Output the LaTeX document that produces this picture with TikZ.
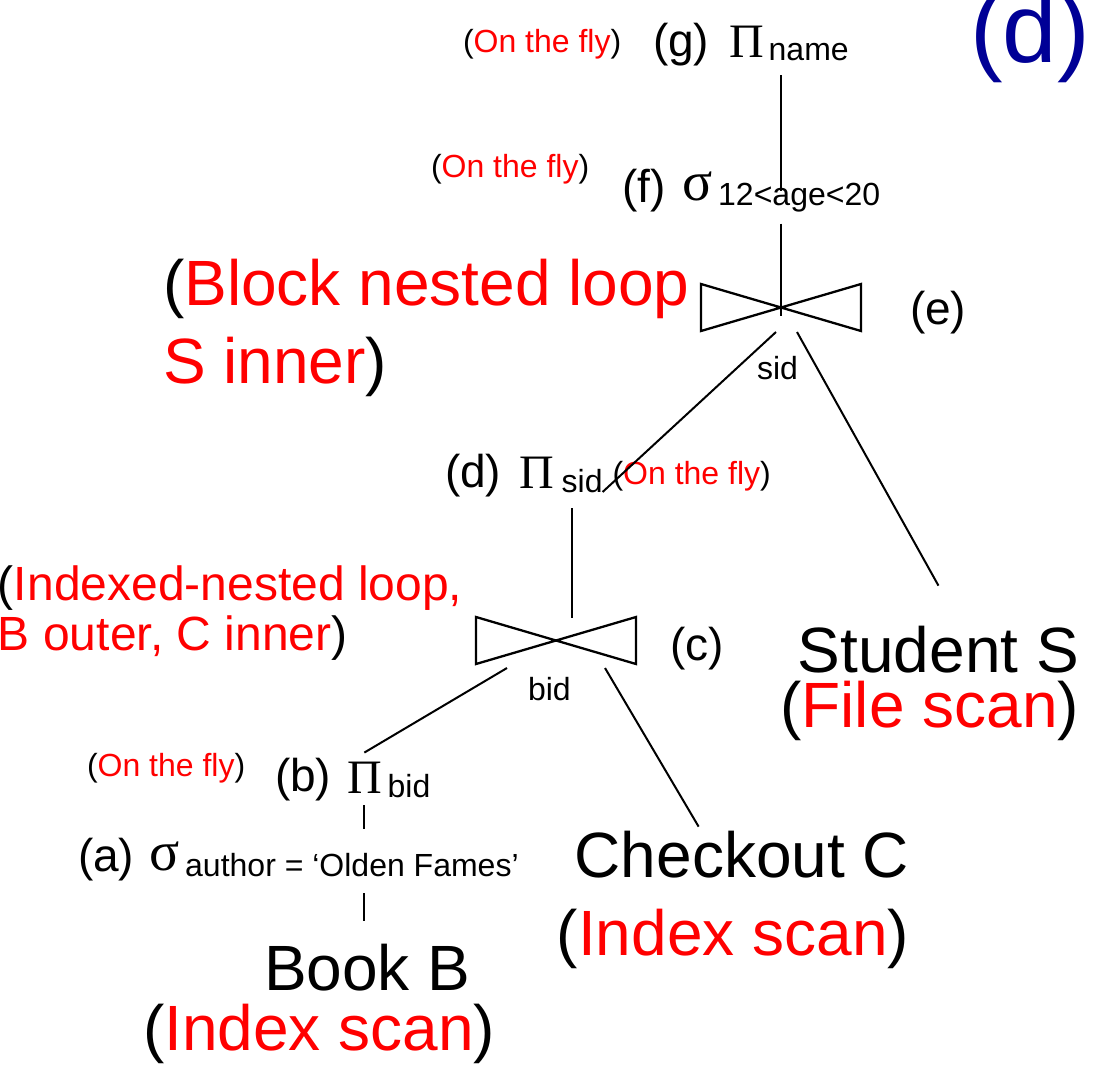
\documentclass[tikz,border=0pt]{standalone}
\usepackage{fontspec}
\setmainfont{Liberation Sans}
\newfontfamily\grkfont{Liberation Serif}
\usetikzlibrary{calc, positioning}
\definecolor{PlanRed}{RGB}{255, 0, 0}
\definecolor{PlanNavy}{RGB}{0, 0, 150}
\newcommand{\fly}[1]{(\textcolor{PlanRed}{#1})}

\begin{document}
\begin{tikzpicture}[x=1pt, y=-1pt,
  txt/.style={inner sep=0pt, outer sep=0pt, anchor=base west},
  oplab/.style={txt, font=\fontsize{46}{50}\selectfont},
  opsym/.style={txt, font=\grkfont\fontsize{48}{52}\selectfont},
  selsym/.style={txt, font=\grkfont\fontsize{56}{60}\selectfont},
  opsub/.style={txt, font=\fontsize{32}{36}\selectfont},
  note/.style={txt, font=\fontsize{32}{36}\selectfont},
  bignote/.style={txt, align=left, font=\fontsize{64}{78}\selectfont},
  midnote/.style={txt, align=left, font=\fontsize{48}{50}\selectfont},
  rel/.style={txt, font=\fontsize{64}{70}\selectfont},
  edge/.style={line width=2pt},
  bowtie/.pic={\draw[edge, line width=2.3pt] (-80,-23.5) -- (80,23.5) -- (80,-23.5) -- (-80,23.5) -- cycle;}
]
\useasboundingbox (0,0) rectangle (1096,1066);

% plan label
\node[txt, text=PlanNavy, font=\fontsize{98}{104}\selectfont] (plan) at (970,62) {(d)};

% (g) projection on name
\node[note]  (flyg) at (463,52) {\fly{On the fly}};
\node[oplab] (glab) at (653,56) {(g)};
\node[opsym] (gop)  at (729,57) {Π};
\node[opsub, base right=5pt of gop, yshift=-3pt] (gsub) {name};

% (f) selection on age
\node[note]  (flyf) at (431,177) {\fly{On the fly}};
\node[oplab] (flab) at (622,202) {(f)};
\node[selsym] (fop) at (682,200) {σ};
\node[opsub, base right=6pt of fop, yshift=-5pt] (fsub) {12<age<20};

% (e) join on sid
\coordinate (ej) at (781,307.5);
\pic at (ej) {bowtie};
\node[bignote] (blocknl) at (163,383) {(\textcolor{PlanRed}{Block nested loop}\\\textcolor{PlanRed}{S inner})};
\node[oplab] (elab) at (910,324) {(e)};
\node[opsub] (esub) at (757,379) {sid};

% (d) projection on sid
\node[oplab] (dlab) at (445,487) {(d)};
\node[opsym] (dop)  at (519,488) {Π};
\node[opsub, base right=8pt of dop, yshift=-4pt] (dsub) {sid};
\node[note, base right=10pt of dsub, yshift=8pt] (flyd) {\fly{On the fly}};

% (c) join on bid
\coordinate (cj) at (556,640.5);
\pic at (cj) {bowtie};
\node[midnote] (indexnl) at (-2,650) {(\textcolor{PlanRed}{Indexed-nested loop,}\\\textcolor{PlanRed}{B outer, C inner})};
\node[oplab] (clab) at (670,660) {(c)};
\node[opsub] (csub) at (528,700) {bid};

% (b) projection on bid
\node[note]  (flyb) at (87,776) {\fly{On the fly}};
\node[oplab] (blab) at (275,791) {(b)};
\node[opsym] (bop)  at (347,793) {Π};
\node[opsub, base right=6pt of bop, yshift=-4pt] (bsub) {bid};

% (a) selection on author
\node[oplab] (alab) at (78,871) {(a)};
\node[selsym] (aop) at (149,870) {σ};
\node[opsub, base right=6pt of aop, yshift=-6pt] (asub) {author = ‘Olden Fames’};

% base relations
\node[rel, anchor=base east] (stud)     at (1079,672) {Student S};
\node[rel, anchor=base east] (studscan) at (1079,727) {\fly{File scan}};
\node[rel, anchor=base east] (chk)      at (909,877)  {Checkout C};
\node[rel, anchor=base east] (chkscan)  at (909,955)  {\fly{Index scan}};
\node[rel] (book)     at (264,990)  {Book B};
\node[rel] (bookscan) at (143,1050) {\fly{Index scan}};

% edges of the plan
\draw[edge] ($(gsub.south -| ej)+(0,15)$) -- ($(fsub.north -| ej)+(0,8)$);
\draw[edge] ($(fsub.south -| ej)+(0,12)$) -- ($(ej)+(0,8)$);
\draw[edge] ($(ej)+(-5,24.5)$) -- (dsub.base east);
\draw[edge] ($(ej)+(16,24.5)$) -- ($(stud.north)+(0,-40)$);
\draw[edge] ($(dsub.south -| cj)+(16,16)$) -- ($(cj)+(16,-23)$);
\draw[edge] ($(cj)+(-49,27.5)$) -- ($(bop.north)+(0,-9)$);
\draw[edge] ($(cj)+(49,27.5)$) -- ($(chk.north west)+(124,-4)$);
\draw[edge] ($(bop.south)+(0,12)$) -- ($(asub.north -| bop.south)+(0,-24)$);
\draw[edge] ($(asub.south -| bop.south)+(0,17)$) -- ($(book.north -| bop.south)+(0,-23)$);
\end{tikzpicture}
\end{document}
